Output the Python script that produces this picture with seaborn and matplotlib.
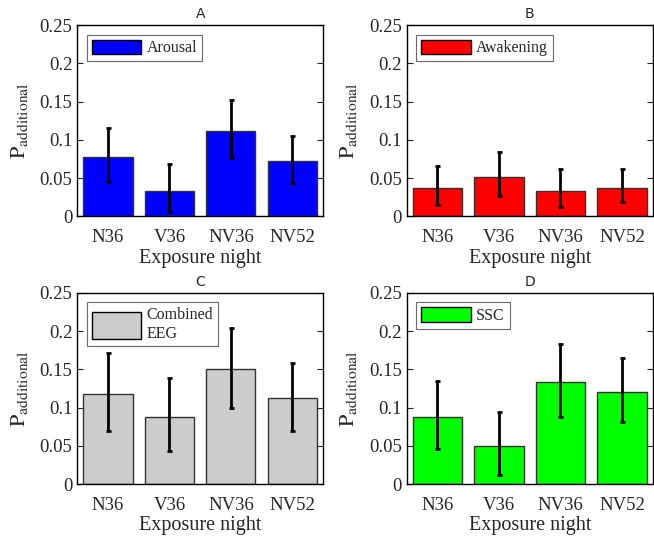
import numpy as np
import pandas as pd
import seaborn as sns
import matplotlib.pyplot as plt
from matplotlib.patches import Patch

nights = ['N36', 'V36', 'NV36', 'NV52']

# mean values and error bar ends for each panel
arousal = [0.078, 0.0335, 0.112, 0.072]
arousal_lo = [0.045, 0.006, 0.0765, 0.044]
arousal_hi = [0.116, 0.068, 0.1526, 0.1057]

awakening = [0.0365, 0.0517, 0.0335, 0.037]
awakening_lo = [0.0152, 0.027, 0.0126, 0.0183]
awakening_hi = [0.0665, 0.0848, 0.0622, 0.0622]

combined = [0.1175, 0.0877, 0.15, 0.1123]
combined_lo = [0.0697, 0.043, 0.1, 0.0697]
combined_hi = [0.171, 0.1386, 0.2044, 0.158]

ssc = [0.0877, 0.05, 0.1333, 0.1206]
ssc_lo = [0.046, 0.0123, 0.088, 0.0816]
ssc_hi = [0.1346, 0.0939, 0.1833, 0.165]

panels = [
    ('A', 'Arousal', arousal, arousal_lo, arousal_hi, (0, 0, 1)),
    ('B', 'Awakening', awakening, awakening_lo, awakening_hi, (1, 0, 0)),
    ('C', 'Combined\nEEG', combined, combined_lo, combined_hi, (0.8, 0.8, 0.8)),
    ('D', 'SSC', ssc, ssc_lo, ssc_hi, (0, 1, 0)),
]

sns.set_style('white')
plt.rcParams['font.family'] = ['Liberation Serif', 'DejaVu Serif']
plt.rcParams['mathtext.fontset'] = 'stix'

fig, axes = plt.subplots(2, 2, figsize=(6.54, 5.36), dpi=100)
fig.subplots_adjust(left=0.118, right=0.998, top=0.953, bottom=0.097,
                    wspace=0.34, hspace=0.40)

for ax, (title, name, vals, lo, hi, color) in zip(axes.flat, panels):
    df = pd.DataFrame({'night': nights, 'p': vals})
    sns.barplot(data=df, x='night', y='p', color=color, saturation=1,
                width=0.8, edgecolor='#333333', linewidth=1.0,
                errorbar=None, ax=ax)
    vals = np.array(vals)
    yerr = [vals - np.array(lo), np.array(hi) - vals]
    ax.errorbar(np.arange(len(nights)), vals, yerr=yerr, fmt='none',
                ecolor='black', elinewidth=2, capsize=1.8, capthick=2)
    ax.set_xlim(-0.5, 3.5)
    ax.set_ylim(0, 0.25)
    ax.set_yticks([0, 0.05, 0.1, 0.15, 0.2, 0.25])
    ax.set_yticklabels(['0', '0.05', '0.1', '0.15', '0.2', '0.25'])
    ax.tick_params(axis='both', direction='in', labelsize=13.5,
                   length=4, width=0.8, right=True, left=True, bottom=True)
    ax.tick_params(axis='x', pad=9)
    ax.set_xlabel('Exposure night', fontsize=14.5, labelpad=2)
    ax.set_ylabel(r'$\mathrm{P}_{\mathrm{additional}}$', fontsize=16, labelpad=7)
    ax.set_title(title, fontsize=10, family='DejaVu Sans', pad=5)
    for s in ax.spines.values():
        s.set_visible(True)
        s.set_color('black')
        s.set_linewidth(1.0)
    handle = Patch(facecolor=color, edgecolor='black', linewidth=1.0)
    two_lines = '\n' in name
    leg = ax.legend([handle], [name], loc='upper left', fontsize=11.5,
                    frameon=True, fancybox=False, handlelength=3.1,
                    handleheight=2.3 if two_lines else 1.0,
                    handletextpad=0.35, borderpad=0.3, borderaxespad=0.6,
                    labelspacing=0.2)
    leg.get_frame().set_edgecolor('#444444')
    leg.get_frame().set_linewidth(0.8)

fig.savefig('out.png', dpi=100)
